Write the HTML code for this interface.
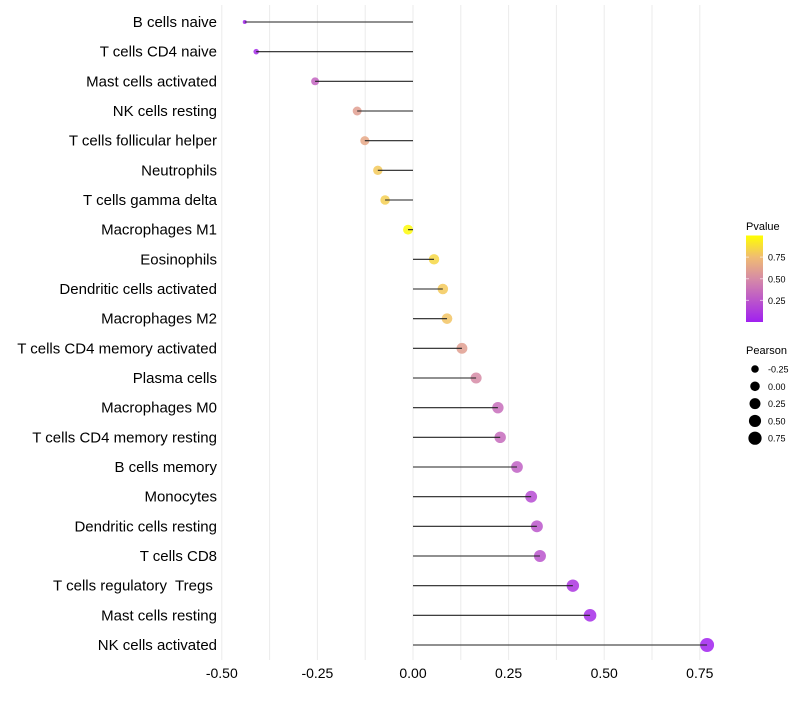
<!DOCTYPE html>
<html><head><meta charset="utf-8"><style>
body{margin:0;background:#fff;font-family:"Liberation Sans",sans-serif}
</style></head><body>
<svg id="c" width="800" height="700" xmlns="http://www.w3.org/2000/svg">
<defs><linearGradient id="pg" x1="0" y1="1" x2="0" y2="0">
<stop offset="0" stop-color="#A020F0"/><stop offset="0.5" stop-color="#D68BA6"/><stop offset="0.75" stop-color="#F0BC72"/><stop offset="1" stop-color="#FFFF00"/></linearGradient></defs>
</svg>
<script>
const cells=["B cells naive","T cells CD4 naive","Mast cells activated","NK cells resting","T cells follicular helper","Neutrophils","T cells gamma delta","Macrophages M1","Eosinophils","Dendritic cells activated","Macrophages M2","T cells CD4 memory activated","Plasma cells","Macrophages M0","T cells CD4 memory resting","B cells memory","Monocytes","Dendritic cells resting","T cells CD8","T cells regulatory\u00a0 Tregs\u00a0","Mast cells resting","NK cells activated"];
const pearson=[-0.44,-0.41,-0.256,-0.146,-0.126,-0.092,-0.073,-0.013,0.055,0.078,0.089,0.128,0.165,0.222,0.228,0.272,0.309,0.324,0.332,0.418,0.463,0.769];
const pvalue=[0.02,0.05,0.32,0.6,0.65,0.8,0.82,0.98,0.85,0.8,0.78,0.6,0.5,0.36,0.35,0.3,0.2,0.25,0.24,0.1,0.06,0.01];
const xTicks=[-0.5,-0.25,0,0.25,0.5,0.75];
const xTickLabels=["-0.50","-0.25","0.00","0.25","0.50","0.75"];
const sizeBreaks=[-0.25,0,0.25,0.5,0.75];
const pBreaks=[0.25,0.5,0.75];
const NS="http://www.w3.org/2000/svg",svg=document.getElementById('c');
function el(t,a,p){const e=document.createElementNS(NS,t);for(const k in a)e.setAttribute(k,a[k]);(p||svg).appendChild(e);return e;}
const X=v=>413+v*382.4;
const Y=i=>22+i*(623/(cells.length-1));
const R=v=>2+5*Math.sqrt(Math.max(0,(v+0.44)/1.21));
const stops=[[0,[160,32,240]],[0.5,[214,139,166]],[0.75,[240,188,114]],[1,[255,255,0]]];
function col(p){for(let i=1;i<stops.length;i++){if(p<=stops[i][0]){const a=stops[i-1],b=stops[i],t=(p-a[0])/(b[0]-a[0]);return 'rgb('+a[1].map((c,j)=>Math.round(c+(b[1][j]-c)*t)).join(',')+')';}}return 'rgb(255,255,0)';}
for(let v=-0.5;v<=0.76;v+=0.125){const g=el('line',{x1:X(v),x2:X(v),y1:5,y2:660,stroke:'#ebebeb','stroke-width':1});

}
xTicks.forEach((v,i)=>{const t=el('text',{x:X(v),y:678,'text-anchor':'middle','font-size':14,fill:'#000'});t.textContent=xTickLabels[i];

});
cells.forEach((c,i)=>{const y=Y(i);
const t=el('text',{x:217,y:y+5,'text-anchor':'end','font-size':15,fill:'#000'});t.textContent=c;


const d=el('circle',{cx:X(pearson[i]),cy:y,r:R(pearson[i]),fill:col(pvalue[i]),'fill-opacity':0.85});


const s=el('line',{x1:X(0),x2:X(pearson[i]),y1:y,y2:y,stroke:'#222','stroke-width':1.1});

});
let t=el('text',{x:746,y:230,'font-size':11});t.textContent='Pvalue';


const PY=p=>322-p*86.5;
const bar=el('rect',{x:746,y:PY(1),width:17,height:86.5,fill:'url(#pg)'});


pBreaks.forEach(p=>{el('line',{x1:746,x2:749,y1:PY(p),y2:PY(p),stroke:'#fff','stroke-opacity':0.6});el('line',{x1:760,x2:763,y1:PY(p),y2:PY(p),stroke:'#fff','stroke-opacity':0.6});
const l=el('text',{x:768,y:PY(p)+3.5,'font-size':9});l.textContent=p.toFixed(2);

});
t=el('text',{x:746,y:354,'font-size':11});t.textContent='Pearson';


sizeBreaks.forEach((v,i)=>{const y=369+i*17.3;
const c=el('circle',{cx:755,cy:y,r:R(v)*0.95,fill:'#000'});


const l=el('text',{x:768,y:y+3.5,'font-size':9});l.textContent=v.toFixed(2);

});
</script>
</body></html>
